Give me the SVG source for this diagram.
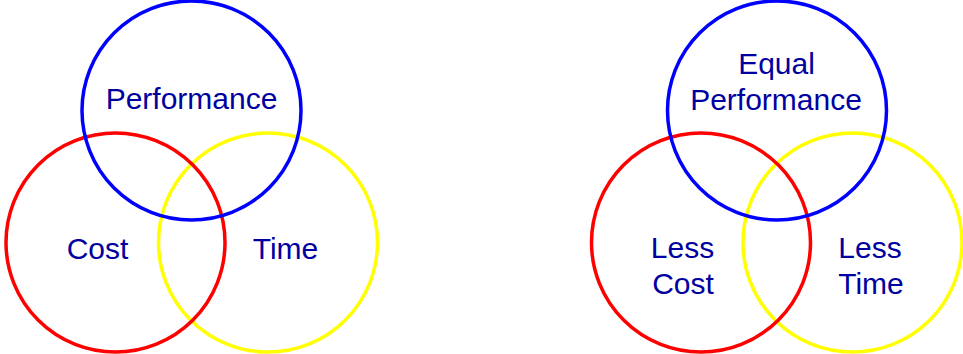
<svg xmlns="http://www.w3.org/2000/svg" width="963" height="354" viewBox="0 0 963 354">
<style>
circle{fill:none;stroke-width:3.5}
.b{stroke:#0000FF}.r{stroke:#FF0000}.y{stroke:#FFFF00}
text{font-family:"Liberation Sans",Arial,sans-serif;font-size:30px;fill:#0000A0;text-anchor:middle}
</style>
<rect width="963" height="354" fill="#fff"/>
<g id="left">
<g id="left-time"><circle class="y" cx="268" cy="242.5" r="109.5"/><text x="285.5" y="259">Time</text></g>
<g id="left-cost"><circle class="r" cx="115.5" cy="242.5" r="109.5"/><text x="97.5" y="259">Cost</text></g>
<g id="left-performance"><circle class="b" cx="191.5" cy="110.5" r="109.5"/><text x="191.5" y="108.5">Performance</text></g>
</g>
<g id="right">
<g id="right-time"><circle class="y" cx="852.5" cy="242.5" r="109.5"/><text x="870" y="257.5">Less</text><text x="871" y="293.5">Time</text></g>
<g id="right-cost"><circle class="r" cx="701" cy="242.5" r="109.5"/><text x="682.5" y="257.5">Less</text><text x="683" y="293.5">Cost</text></g>
<g id="right-performance"><circle class="b" cx="777" cy="110.5" r="109.5"/><text x="776.5" y="73.5">Equal</text><text x="776" y="109.5">Performance</text></g>
</g>
<g id="connectors"/>
</svg>
